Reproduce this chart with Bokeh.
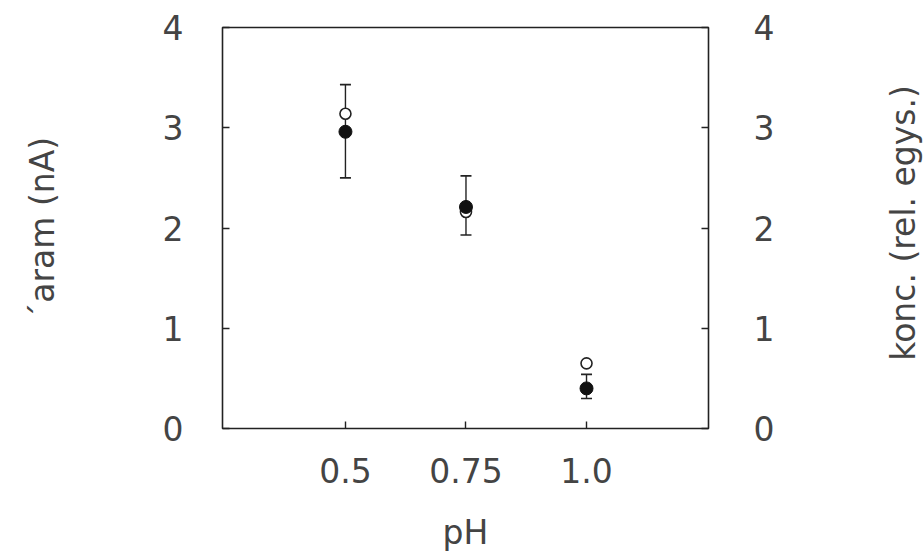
from math import pi

from bokeh.embed import file_html
from bokeh.resources import INLINE
from bokeh.plotting import figure
from bokeh.layouts import row
from bokeh.models import (ColumnDataSource, Range1d, LinearAxis, FixedTicker,
                          Whisker, TeeHead, Label)

# pH values and measurements
ph = [0.5, 0.75, 1.0]
ph_labels = {0.5: "0.5", 0.75: "0.75", 1.0: "1.0"}
current = [2.96, 2.21, 0.40]          # filled markers, current (nA)
current_lo = [2.50, 1.93, 0.30]
current_hi = [3.43, 2.52, 0.54]
concentration = [3.14, 2.16, 0.65]    # open markers, rel. units
y_ticks = [0, 1, 2, 3, 4]

FONT = "DejaVu Sans"
SIZE = "33px"
INK = "#222222"
TXT = "#444444"

W_MAIN, W_SIDE, H = 840, 83, 554

src = ColumnDataSource(dict(ph=ph, cur=current, lo=current_lo, hi=current_hi,
                            conc=concentration))

p = figure(width=W_MAIN, height=H, output_backend="svg", toolbar_location=None,
           x_range=Range1d(0.245, 1.253), y_range=Range1d(0, 4),
           min_border_left=222, min_border_right=132,
           min_border_top=27, min_border_bottom=126)
p.background_fill_color = "white"
p.border_fill_color = "white"
p.outline_line_color = INK
p.outline_line_width = 1.6
p.xgrid.visible = False
p.ygrid.visible = False


def style_axis(ax):
    ax.axis_line_color = None
    ax.major_tick_line_color = INK
    ax.major_tick_line_width = 1.4
    ax.major_tick_in = 7
    ax.major_tick_out = 0
    ax.minor_tick_line_color = None
    ax.major_label_text_font = FONT
    ax.major_label_text_font_size = SIZE
    ax.major_label_text_color = TXT
    ax.axis_label_text_font = FONT
    ax.axis_label_text_font_size = SIZE
    ax.axis_label_text_font_style = "normal"
    ax.axis_label_text_color = TXT


xa = p.xaxis[0]
style_axis(xa)
xa.ticker = FixedTicker(ticks=ph)
xa.major_label_overrides = ph_labels
xa.major_label_standoff = 29
xa.axis_label = "pH"
xa.axis_label_standoff = 27

ya = p.yaxis[0]
style_axis(ya)
ya.ticker = FixedTicker(ticks=y_ticks)
ya.major_label_standoff = 39
ya.axis_label = "´aram (nA)"
ya.axis_label_standoff = 98

ra = LinearAxis(ticker=FixedTicker(ticks=y_ticks))
style_axis(ra)
ra.major_label_standoff = 45
p.add_layout(ra, "right")

# error bars of the current measurements
p.add_layout(Whisker(source=src, base="ph", lower="lo", upper="hi",
                     line_color=INK, line_width=1.4,
                     upper_head=TeeHead(size=11, line_color=INK, line_width=1.6),
                     lower_head=TeeHead(size=11, line_color=INK, line_width=1.6)))

p.scatter("ph", "conc", source=src, marker="circle", size=11,
          fill_color="white", line_color=INK, line_width=1.6)
p.scatter("ph", "cur", source=src, marker="circle", size=13,
          fill_color="#111111", line_color="#111111")

# narrow strip holding the right-hand axis title, reading upwards
side = figure(width=W_SIDE, height=H, output_backend="svg",
              toolbar_location=None, x_axis_type=None, y_axis_type=None,
              x_range=Range1d(0, W_SIDE), y_range=Range1d(0, H),
              min_border=0)
side.outline_line_color = None
side.xgrid.visible = False
side.ygrid.visible = False
side.add_layout(Label(x=63, y=H - 270, text="konc. (rel. egys.)", angle=pi / 2,
                      text_align="center", text_baseline="middle",
                      text_font=FONT, text_font_size=SIZE, text_color=TXT))

open("out.html", "w").write(file_html(row(p, side, spacing=0), INLINE))
